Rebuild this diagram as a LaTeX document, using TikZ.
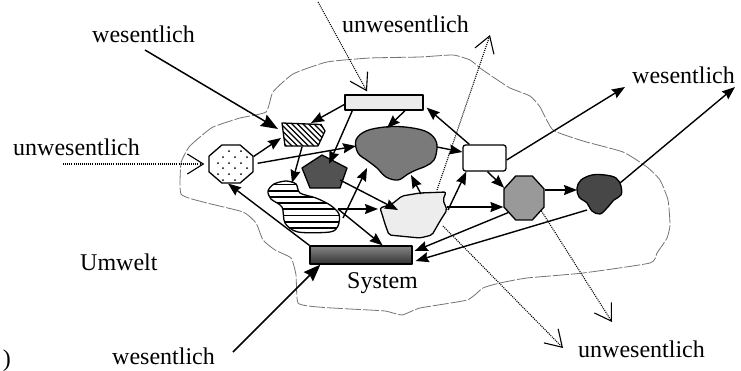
\documentclass[tikz,border=0pt]{standalone}
\usepackage{fontspec}
\setmainfont{Liberation Serif}
\usetikzlibrary{arrows.meta,shapes.geometric}

\begin{document}
\begin{tikzpicture}[x=1pt,y=-1pt,
  lbl/.style={font=\fontsize{24}{28}\selectfont, inner sep=0pt, anchor=base west},
  edge/.style={line width=1.4pt, -{Stealth[length=13pt,width=10pt,inset=1.5pt]}},
  bigedge/.style={line width=1.5pt, -{Stealth[length=17pt,width=13pt,inset=2pt]}},
  weak/.style={line width=1.1pt, dash pattern=on 1pt off 1.1pt,
    -{Straight Barb[length=16pt,width=20pt,line width=1.1pt]}},
  outline/.style={draw, line width=1.3pt, line join=round},
  border/.style={draw=black!55, line width=0.8pt, dash pattern=on 16pt off 2pt},
  oct/.style={outline, regular polygon, regular polygon sides=8,
    minimum size=47.6pt, inner sep=0pt, transform shape}]

\useasboundingbox (0,0) rectangle (741,370);

% system boundary
\draw[border] plot[smooth cycle, tension=0.3] coordinates {
  (181,163) (189,147) (200,137) (213,127) (240,118) (266,112) (273,92)
  (293,74) (327,62) (370,58) (420,57) (453,55) (470,60) (480,68) (493,77)
  (510,88) (530,96) (540,107) (553,130) (583,141) (623,152) (647,167)
  (660,180) (668,200) (670,225) (667,238) (657,253) (650,263) (583,273)
  (527,278) (500,283) (483,288) (467,300) (420,308) (402,315) (385,311)
  (350,309) (318,307) (298,303) (296,275) (291,258) (275,250) (263,240)
  (256,223) (243,212) (203,202) (181,194)};

% rectangular elements
\node[outline, fill=black!8, minimum width=78pt, minimum height=15pt, inner sep=0pt]
  (toprect) at (384,102.5) {};
\node[outline, rounded corners=2.5pt, fill=white, minimum width=43pt,
  minimum height=26pt, inner sep=0pt] (wrect) at (484.5,158) {};
\node[outline, top color=black!48, bottom color=black!80, minimum width=102pt,
  minimum height=18pt, inner sep=0pt] (sysbar) at (361,255) {};

% octagons
\begin{scope}[shift={(231,164)}, yscale=0.864]
  \node[oct, fill=white] (dotoct) at (0,0) {};
\end{scope}
\foreach \p in {(229,151),(241,151),(223,157),(235,157),(247,157),
                (218,163),(229,163),(241,163),(223,168),(235,168),(247,168),
                (218,174),(229,174),(241,174),(223,180),(235,180)}
  \fill \p circle (1pt);
\begin{scope}[shift={(524,198)}, xscale=0.91]
  \node[oct, fill=black!40] (grayoct) at (0,0) {};
\end{scope}

% big grey cloud
\path[outline, fill=black!52] plot[smooth cycle, tension=0.6] coordinates {
  (356,140) (366,131) (385,127) (405,127) (425,131) (435,139) (437,148)
  (434,160) (426,166) (416,170) (408,174) (398,180) (386,177) (377,168)
  (368,161) (358,153)};
\coordinate (A-n) at (387,128);
\coordinate (A-w) at (356,146);
\coordinate (A-e) at (437,147);
\coordinate (A-s) at (411,175);
\coordinate (A-sw) at (367,168);

% dark pentagon
\path[outline, fill=black!68] (322,155) -- (347,168) -- (340,188) -- (310,188)
  -- (302,168) -- cycle;
\coordinate (P-top) at (329,164);
\coordinate (P-e) at (340,180);

% hatched element
\path[outline, fill=white, path picture={
    \foreach \k in {-66,-60.5,...,66}
      \draw[line width=1.4pt] (303+\k,135) ++(-30,-30) -- ++(60,60);
  }] (282,123) -- (321,124.5) -- (325,131) -- (318,146) -- (285,146) -- cycle;
\coordinate (H-w) at (278,129);
\coordinate (H-ne) at (311,123);
\coordinate (H-sw) at (281,138);
\coordinate (H-s) at (302,147);

% striped element
\path[outline, fill=white, path picture={
    \foreach \k in {0,...,8}
      \draw[line width=1.9pt] (255,184.5+6.2*\k) -- (350,184.5+6.2*\k);
  }] plot[smooth cycle, tension=0.5] coordinates {
  (268,191) (274,184) (286,181) (296,184) (300,193) (316,198) (330,205)
  (339,214) (338,226) (330,232) (298,232) (285,223) (282,207) (271,199)};
\coordinate (S-n) at (292,183);
\coordinate (S-e1) at (338,209);
\coordinate (S-e2) at (343,218);

% light element
\path[outline, fill=black!7, rounded corners=2pt] (380,208) -- (392,204)
  -- (402,196) -- (420,193) -- (446,192) -- (443,200) -- (447,210) -- (440,221)
  -- (432,235) -- (420,238) -- (389,235) -- (385,224) -- (382,214) -- cycle;
\coordinate (L-w) at (378,209);
\coordinate (L-nw) at (398,210);
\coordinate (L-n) at (421,194);
\coordinate (L-ne) at (448,210);
\coordinate (L-e) at (447,207);
\coordinate (L-top) at (437,190);
\coordinate (L-se) at (443,226);

% dark element on the right
\path[outline, fill=black!72] plot[smooth cycle, tension=0.6] coordinates {
  (581,180) (592,175) (605,175) (616,178) (621,186) (621,195) (614,200)
  (607,208) (600,214) (592,211) (587,203) (579,197) (577,188)};
\coordinate (K-w) at (577,190);
\coordinate (K-sw) at (587,210);
\coordinate (K-ne) at (620,183);

% labels
\node[lbl] (wTL) at (92,42) {wesentlich};
\node[lbl] (uTC) at (342,32) {unwesentlich};
\node[lbl] (uL) at (13,155) {unwesentlich};
\node[lbl] (wR) at (632,83) {wesentlich};
\node[lbl] (umw) at (80,270) {Umwelt};
\node[lbl] (sys) at (347,288) {System};
\node[lbl] (wB) at (112,364) {wesentlich};
\node[lbl] (uBR) at (578,357) {unwesentlich};
\node[lbl, anchor=base east] (lab) at (11,366) {)};

% free ends outside the system
\coordinate (inTL) at (145,50);
\coordinate (inB) at (233,352);
\coordinate (outR1) at (625,87);
\coordinate (outR2) at (735,87);
\coordinate (inTop) at (318,2);
\coordinate (outTop) at (490,35);
\coordinate (inL) at (63,164);
\coordinate (outB1) at (563,348);
\coordinate (outB2) at (612,322);

% essential relations
\draw[bigedge] (inTL) -- (H-w);
\draw[bigedge] (inB) -- ([xshift=11pt]sysbar.south west);
\draw[edge] ([yshift=-2pt]toprect.west) -- (H-ne);
\draw[edge] ([xshift=8pt]toprect.south west) -- (P-top);
\draw[edge] ([xshift=21pt]toprect.south) -- (A-n);
\draw[edge] ([xshift=7pt]wrect.north west) -- ([xshift=3pt,yshift=3pt]toprect.south east);
\draw[edge] (A-e) -- ([yshift=6pt]wrect.west);
\draw[edge] (dotoct.21) -- (H-sw);
\draw[edge, shorten <=4pt] (dotoct.east) -- (A-w);
\draw[edge] (H-s) -- (S-n);
\draw[edge] (sysbar.north west) -- ([xshift=-3pt]dotoct.south);
\draw[edge] (P-e) -- (L-nw);
\draw[edge] (S-e1) -- (L-w);
\draw[edge] (S-e1) -- ([xshift=-30pt]sysbar.north east);
\draw[edge] (S-e2) -- (A-sw);
\draw[edge] (L-n) -- (A-s);
\draw[edge] (L-ne) -- ([xshift=4pt]wrect.south west);
\draw[edge] (L-e) -- ([yshift=-9pt]grayoct.west);
\draw[edge] ([xshift=3pt]wrect.south) -- (grayoct.155);
\draw[edge] ([yshift=8pt]grayoct.east) -- (K-w);
\draw[edge] (grayoct.220) -- ([xshift=2pt,yshift=4pt]sysbar.east);
\draw[edge] (K-sw) -- ([xshift=3pt,yshift=-6pt]sysbar.east);
\draw[edge] ([yshift=-2pt]wrect.east) -- (outR1);
\draw[edge] (K-ne) -- (outR2);

% inessential relations
\draw[weak] (inTop) -- ([xshift=-17pt,yshift=3pt]toprect.north);
\draw[weak] (L-top) -- (outTop);
\draw[weak] (inL) -- ([xshift=-4pt]dotoct.west);
\draw[weak] (L-se) -- (outB1);
\draw[weak] (grayoct.-34) -- (outB2);
\end{tikzpicture}
\end{document}
